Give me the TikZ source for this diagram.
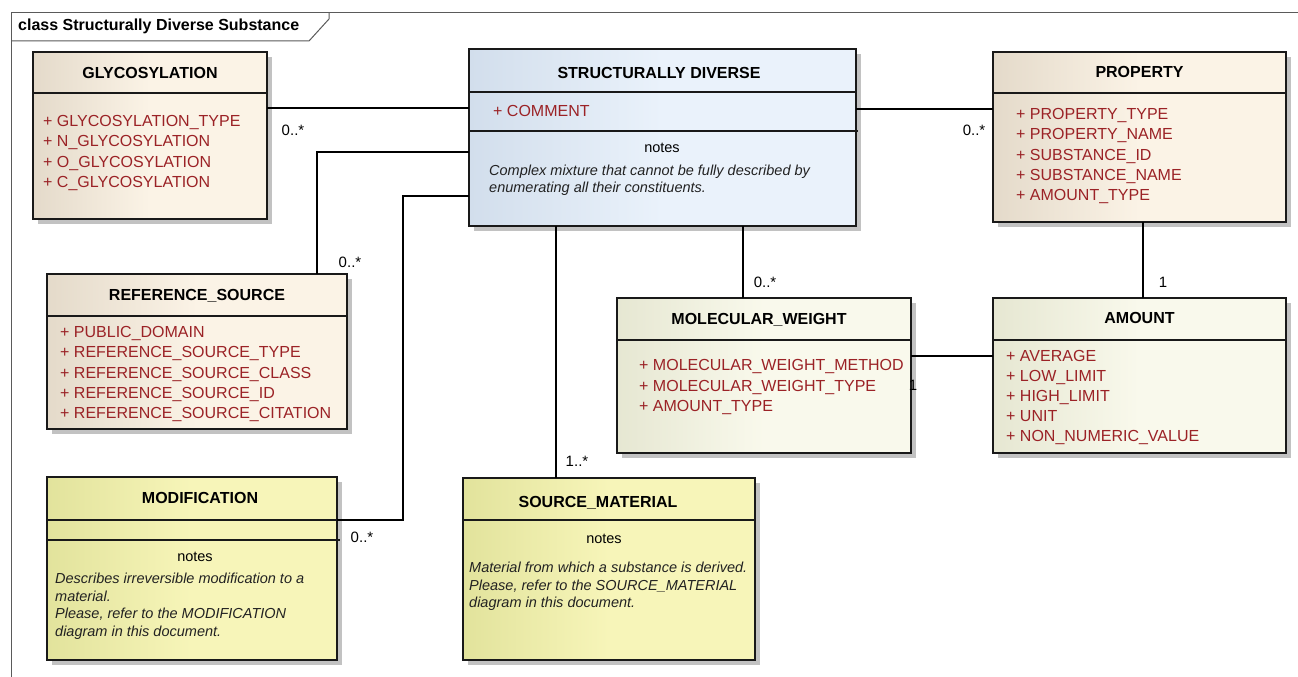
\documentclass[tikz,border=0pt]{standalone}
\usepackage{fontspec}
\setmainfont{Liberation Sans}
\usetikzlibrary{shadows}

\definecolor{tanL}{HTML}{E4DACA}
\definecolor{tanR}{HTML}{FBF3E6}
\definecolor{blueL}{HTML}{D2DEEC}
\definecolor{blueR}{HTML}{EAF2FB}
\definecolor{greenL}{HTML}{E6E7D2}
\definecolor{greenR}{HTML}{F9F9EC}
\definecolor{yelL}{HTML}{E2E39C}
\definecolor{yelR}{HTML}{F7F5B9}
\definecolor{attrred}{HTML}{9B2226}
\definecolor{notetext}{HTML}{222222}
\definecolor{framegray}{HTML}{5A5A5A}

% class box given by its corners: name, left, top, right, bottom, fill style
\newcommand\umlclass[6]{%
  \node[umlbox,#6,minimum width={#4-#2},minimum height={#5-#3}] (#1)
    at ({(#2+#4)/2},{(#3+#5)/2}) {};}

\begin{document}
\begin{tikzpicture}[x=1pt,y=-1pt,
  umlbox/.style={draw=black!90,line width=1.3pt,inner sep=0pt,outer sep=0pt,
    drop shadow={shadow xshift=5pt,shadow yshift=-5pt,fill=black!24,opacity=1}},
  tanfill/.style={left color=tanL,right color=tanR,middle color=tanR},
  bluefill/.style={left color=blueL,right color=blueR,middle color=blueR},
  greenfill/.style={left color=greenL,right color=greenR,middle color=greenR},
  yelfill/.style={left color=yelL,right color=yelR,middle color=yelR},
  sepline/.style={draw=black!90,line width=1.2pt},
  conn/.style={draw=black,line width=1.1pt},
  frameline/.style={draw=framegray,line width=1pt},
  classtitle/.style={anchor=base,inner sep=0pt,font=\fontsize{16}{19}\selectfont\bfseries},
  attrs/.style={anchor=north west,inner sep=0pt,align=left,text=attrred,
    font=\fontsize{16}{20.3}\selectfont},
  notehead/.style={anchor=base,inner sep=0pt,font=\fontsize{14.5}{17}\selectfont},
  notebody/.style={anchor=north west,inner sep=0pt,align=left,text=notetext,
    font=\fontsize{14.5}{17.6}\selectfont\itshape},
  mult/.style={anchor=center,inner sep=0pt,font=\fontsize{15}{17}\selectfont}]

\useasboundingbox (0,0) rectangle (1298,677);
\fill[white] (0,0) rectangle (1298,677);

% diagram frame and its name tab
\draw[frameline] (11,677) -- (11,13) -- (1298,13);
\draw[frameline] (11,41) -- (309,41) -- (329,19) -- (329,13);
\node[anchor=base west,inner sep=0pt,font=\fontsize{16}{19}\selectfont\bfseries]
  (frametitle) at (18,30.5) {class Structurally Diverse Substance};

% class boxes
\umlclass{glyco}{33}{52}{267}{219}{tanfill}
\umlclass{sd}{469}{49}{856}{226}{bluefill}
\umlclass{prop}{993}{52}{1286}{222}{tanfill}
\umlclass{ref}{47}{274}{347}{429}{tanfill}
\umlclass{mw}{617}{298}{911}{453}{greenfill}
\umlclass{amt}{993}{298}{1286}{453}{greenfill}
\umlclass{mod}{47}{477}{337}{660}{yelfill}
\umlclass{sm}{463}{478}{755}{660}{yelfill}

% compartment separators
\draw[sepline] (glyco.west |- 0,93) -- (glyco.east |- 0,93);
\draw[sepline] (sd.west |- 0,92) -- (sd.east |- 0,92);
\draw[sepline] (sd.west |- 0,131) -- (858,131);
\draw[sepline] (prop.west |- 0,93) -- (prop.east |- 0,93);
\draw[sepline] (ref.west |- 0,316) -- (ref.east |- 0,316);
\draw[sepline] (mw.west |- 0,340) -- (mw.east |- 0,340);
\draw[sepline] (amt.west |- 0,340) -- (amt.east |- 0,340);
\draw[sepline] (mod.west |- 0,520) -- (mod.east |- 0,520);
\draw[sepline] (mod.west |- 0,540) -- (340,540);
\draw[sepline] (sm.west |- 0,520) -- (sm.east |- 0,520);

% class names
\node[classtitle] (glyco-name) at (150,78.7) {GLYCOSYLATION};
\node[classtitle] (sd-name) at (659,78.7) {STRUCTURALLY DIVERSE};
\node[classtitle] (prop-name) at (1139.5,77.7) {PROPERTY};
\node[classtitle] (ref-name) at (197,300.2) {REFERENCE\_SOURCE};
\node[classtitle] (mw-name) at (759,324.7) {MOLECULAR\_WEIGHT};
\node[classtitle] (amt-name) at (1139.5,323.7) {AMOUNT};
\node[classtitle] (mod-name) at (200,503.7) {MODIFICATION};
\node[classtitle] (sm-name) at (598,507.7) {SOURCE\_MATERIAL};

% attributes
\node[attrs] (glyco-attrs) at (43,115.3)
  {+ GLYCOSYLATION\_TYPE\\+ N\_GLYCOSYLATION\\+ O\_GLYCOSYLATION\\+ C\_GLYCOSYLATION};
\node[attrs] (sd-attrs) at (493,105.3) {+ COMMENT};
\node[attrs] (prop-attrs) at (1016,108.3)
  {+ PROPERTY\_TYPE\\+ PROPERTY\_NAME\\+ SUBSTANCE\_ID\\+ SUBSTANCE\_NAME\\+ AMOUNT\_TYPE};
\node[attrs] (ref-attrs) at (60,326.3)
  {+ PUBLIC\_DOMAIN\\+ REFERENCE\_SOURCE\_TYPE\\+ REFERENCE\_SOURCE\_CLASS\\+ REFERENCE\_SOURCE\_ID\\+ REFERENCE\_SOURCE\_CITATION};
\node[attrs,font=\fontsize{16}{20.5}\selectfont] (mw-attrs) at (639,359.3)
  {+ MOLECULAR\_WEIGHT\_METHOD\\+ MOLECULAR\_WEIGHT\_TYPE\\+ AMOUNT\_TYPE};
\node[attrs,font=\fontsize{16}{19.9}\selectfont] (amt-attrs) at (1006,350.3)
  {+ AVERAGE\\+ LOW\_LIMIT\\+ HIGH\_LIMIT\\+ UNIT\\+ NON\_NUMERIC\_VALUE};

% notes
\node[notehead] (sd-noteshead) at (662,152.5) {notes};
\node[notebody] (sd-notes) at (489,164.6)
  {Complex mixture that cannot be fully described by\\enumerating all their constituents.};
\node[notehead] (mod-noteshead) at (195,561) {notes};
\node[notebody] (mod-notes) at (55,573)
  {Describes irreversible modification to a\\material.\\Please, refer to the MODIFICATION\\diagram in this document.};
\node[notehead] (sm-noteshead) at (604,543.3) {notes};
\node[notebody] (sm-notes) at (469,562)
  {Material from which a substance is derived.\\Please, refer to the SOURCE\_MATERIAL\\diagram in this document.};

% associations
\coordinate (modbend) at (403,520);
\draw[conn] (glyco.east |- 0,108) -- (sd.west |- 0,108);
\draw[conn] (sd.east |- 0,109) -- (prop.west |- 0,109);
\draw[conn] (sd.west |- 0,152) -| (ref.north -| 317,0);
\draw[conn] (sd.west |- 0,196) -| (modbend) -- (mod.east |- modbend);
\draw[conn] (sd.south -| 556,0) -- (sm.north -| 556,0);
\draw[conn] (sd.south -| 743,0) -- (mw.north -| 743,0);
\draw[conn] (prop.south -| 1143,0) -- (amt.north -| 1143,0);
\draw[conn] (mw.east |- 0,356) -- (amt.west |- 0,356);

% multiplicities
\node[mult] (m-glyco) at (293,130) {0..*};
\node[mult] (m-prop) at (974,130) {0..*};
\node[mult] (m-ref) at (350,262) {0..*};
\node[mult] (m-mod) at (362,537) {0..*};
\node[mult] (m-sm) at (577,461) {1..*};
\node[mult] (m-mw) at (765,282) {0..*};
\node[mult] (m-amt) at (1163,282) {1};
\node[mult] (m-mwamt) at (913,385) {1};

\end{tikzpicture}
\end{document}
